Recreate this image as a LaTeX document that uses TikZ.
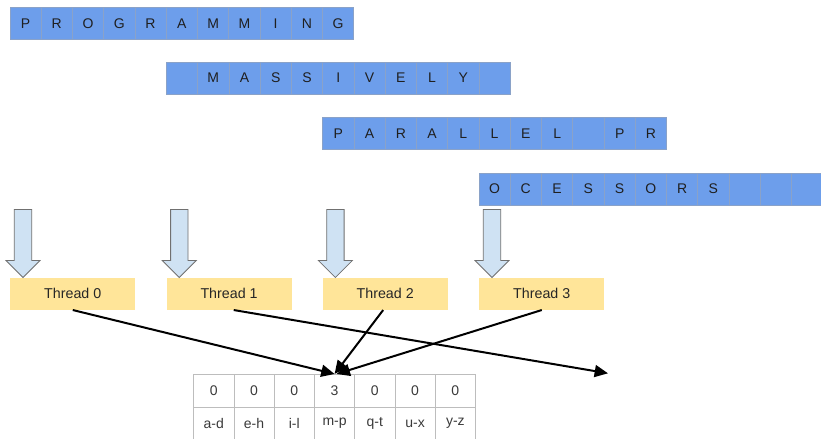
\documentclass[tikz,border=0pt]{standalone}
\usepackage{fontspec}
\setmainfont{Liberation Sans}
\usetikzlibrary{arrows.meta,calc}
\definecolor{cellblue}{HTML}{6D9EEB}
\definecolor{cellline}{HTML}{8AA2C8}
\definecolor{thyellow}{HTML}{FFE599}
\definecolor{arrowblue}{HTML}{CFE2F3}
\definecolor{arrowline}{HTML}{707070}
\definecolor{tabline}{HTML}{BDBDBD}
\definecolor{tabtext}{HTML}{3A3A3A}
\begin{document}
\begin{tikzpicture}[x=0.75pt,y=-0.75pt,
  letter/.style={draw=cellline, fill=cellblue, line width=0.5pt, minimum width=23.45pt, minimum height=24pt, inner sep=0pt, anchor=north west, font=\fontsize{10.5}{12}\selectfont, text=black!88},
  thread/.style={fill=thyellow, minimum width=93.75pt, minimum height=24pt, inner sep=0pt, anchor=north west, font=\fontsize{10.7}{12}\selectfont, text=black!85},
  tcell/.style={draw=tabline, line width=0.6pt, minimum width=30.19pt, minimum height=24.6pt, inner sep=0pt, anchor=north west, font=\fontsize{10.5}{12}\selectfont, text=tabtext},
  flow/.style={line width=1.5pt, -{Triangle[length=10pt,width=9pt]}},
  blockarrow/.style={fill=arrowblue, draw=arrowline, line width=0.6pt, line join=miter}]
\useasboundingbox (0,0) rectangle (821,439);
\fill[white] (0,0) rectangle (821,439);

% word rows
\foreach \l [count=\i from 0] in {P,R,O,G,R,A,M,M,I,N,G}
  \node[letter] (ra\i) at ({9.5+31.27*\i},7) {\l};
\foreach \l [count=\i from 0] in {{},M,A,S,S,I,V,E,L,Y,{}}
  \node[letter] (rb\i) at ({166+31.27*\i},61.8) {\l};
\foreach \l [count=\i from 0] in {P,A,R,A,L,L,E,L,{},P,R}
  \node[letter] (rc\i) at ({322.3+31.27*\i},117) {\l};
\foreach \l [count=\i from 0] in {O,C,E,S,S,O,R,S,{},{},{}}
  \node[letter] (rd\i) at ({478.5+31.27*\i},172.5) {\l};

% threads
\node[thread] (t0) at (10,277.5) {Thread 0};
\node[thread] (t1) at (166.3,277.5) {Thread 1};
\node[thread] (t2) at (322.4,277.5) {Thread 2};
\node[thread] (t3) at (479,277.5) {Thread 3};

% block arrows
\foreach \t in {t0,t1,t2,t3}
  \draw[blockarrow] ($(\t.north west)+(4.3,-68)$) -- ++(17.4,0) -- ++(0,51) -- ++(8.3,0)
    -- ($(\t.north west)+(13,0)$) -- ++(-17,-17) -- ++(8.3,0) -- cycle;

% table
\foreach \v [count=\j from 0] in {0,0,0,3,0,0,0}
  \node[tcell] (c\j) at ({193.3+40.25*\j},374) {\v};
\foreach \v [count=\j from 0] in {a-d,e-h,i-l,m-p,q-t,u-x,y-z}
  \node[tcell] (r\j) at ({193.3+40.25*\j},406.8) {\v};

% connectors
\coordinate (end1) at (608,373.3);
\draw[flow] (t0.south) -- (c3.north);
\draw[flow] ([xshift=3.5pt]t1.south) -- (end1);
\draw[flow] ([xshift=-1.5pt]t2.south) -- (c3.north);
\draw[flow] (t3.south) -- ([xshift=1.5pt]c3.north);
\end{tikzpicture}
\end{document}
